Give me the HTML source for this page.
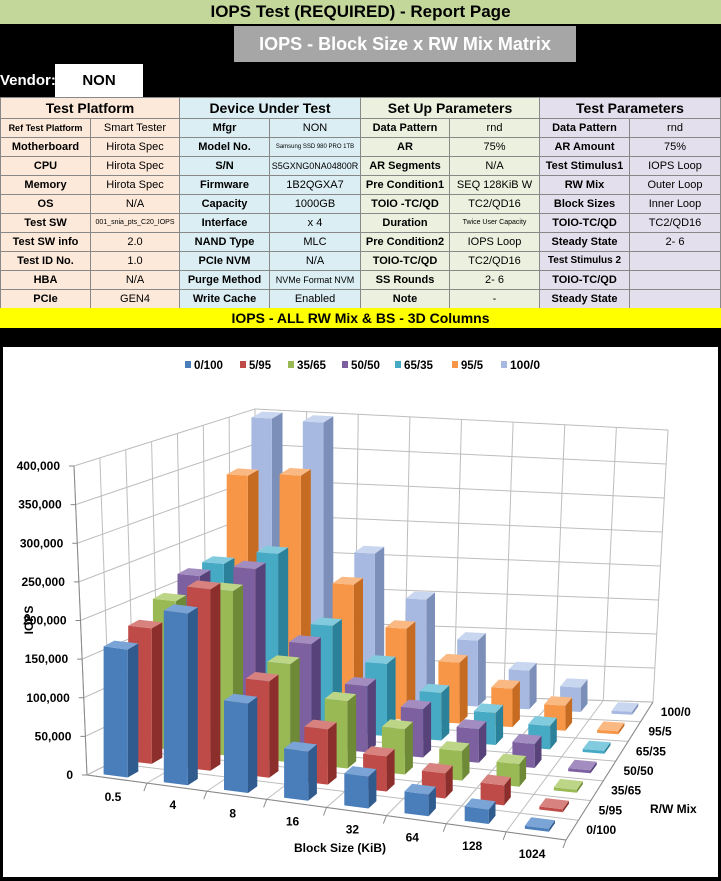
<!DOCTYPE html>
<html><head><meta charset="utf-8">
<style>
body{margin:0;width:721px;height:881px;background:#000;overflow:hidden;font-family:"Liberation Sans",sans-serif;position:relative}
.abs{position:absolute}
#title{left:0;top:0;width:721px;height:24px;background:#c4d79b;text-align:center;font-weight:bold;font-size:17px;line-height:24px}
#gray{left:234px;top:26px;width:342px;height:36px;background:#a6a6a6;color:#fff;font-weight:bold;font-size:18px;line-height:36px;text-align:center}
#vend{left:0;top:64px;color:#fff;font-weight:bold;font-size:15px;line-height:33px}
#non{left:55px;top:64px;width:88px;height:33px;background:#fff;font-weight:bold;font-size:15px;line-height:33px;text-align:center}
table{position:absolute;left:0;top:97px;border-collapse:collapse;table-layout:fixed}
td{border:1px solid #888;padding:0;text-align:center;font-size:11px;height:18px;line-height:18px;white-space:nowrap;overflow:hidden}
td.b{font-weight:bold}
tr.h td{font-weight:bold;font-size:14px;height:20px;line-height:20px}
.c1{background:#fde9d9}.c2{background:#dbeef4}.c3{background:#ebf1de}.c4{background:#e4dfec}
#yel{left:0;top:308px;width:721px;height:20px;background:#ffff00;font-weight:bold;font-size:14px;line-height:20px;text-align:center}
#chart{left:3px;top:347px}
</style></head><body>
<div class="abs" id="title">IOPS Test (REQUIRED) - Report Page</div>
<div class="abs" id="gray">IOPS - Block Size x RW Mix Matrix</div>
<div class="abs" id="vend">Vendor:</div>
<div class="abs" id="non">NON</div>
<table>
<colgroup><col style="width:90px"><col style="width:89px"><col style="width:90px"><col style="width:91px"><col style="width:89px"><col style="width:90px"><col style="width:90px"><col style="width:91px"></colgroup>
<tr class="h"><td colspan="2" class="c1">Test Platform</td><td colspan="2" class="c2">Device Under Test</td><td colspan="2" class="c3">Set Up Parameters</td><td colspan="2" class="c4">Test Parameters</td></tr>
<tr><td class="c1 b" style="font-size:9px">Ref Test Platform</td><td class="c1">Smart Tester</td><td class="c2 b">Mfgr</td><td class="c2">NON</td><td class="c3 b">Data Pattern</td><td class="c3">rnd</td><td class="c4 b">Data Pattern</td><td class="c4">rnd</td></tr>
<tr><td class="c1 b">Motherboard</td><td class="c1">Hirota Spec</td><td class="c2 b">Model No.</td><td class="c2" style="font-size:6px">Samsung SSD 980 PRO 1TB</td><td class="c3 b">AR</td><td class="c3">75%</td><td class="c4 b">AR Amount</td><td class="c4">75%</td></tr>
<tr><td class="c1 b">CPU</td><td class="c1">Hirota Spec</td><td class="c2 b">S/N</td><td class="c2" style="font-size:9px">S5GXNG0NA04800R</td><td class="c3 b">AR Segments</td><td class="c3">N/A</td><td class="c4 b">Test Stimulus1</td><td class="c4">IOPS Loop</td></tr>
<tr><td class="c1 b">Memory</td><td class="c1">Hirota Spec</td><td class="c2 b">Firmware</td><td class="c2">1B2QGXA7</td><td class="c3 b">Pre Condition1</td><td class="c3">SEQ 128KiB W</td><td class="c4 b">RW Mix</td><td class="c4">Outer Loop</td></tr>
<tr><td class="c1 b">OS</td><td class="c1">N/A</td><td class="c2 b">Capacity</td><td class="c2">1000GB</td><td class="c3 b">TOIO -TC/QD</td><td class="c3">TC2/QD16</td><td class="c4 b">Block Sizes</td><td class="c4">Inner Loop</td></tr>
<tr><td class="c1 b">Test SW</td><td class="c1" style="font-size:7px">001_snia_pts_C20_IOPS</td><td class="c2 b">Interface</td><td class="c2">x 4</td><td class="c3 b">Duration</td><td class="c3" style="font-size:7px">Twice User Capacity</td><td class="c4 b">TOIO-TC/QD</td><td class="c4">TC2/QD16</td></tr>
<tr><td class="c1 b">Test SW info</td><td class="c1">2.0</td><td class="c2 b">NAND Type</td><td class="c2">MLC</td><td class="c3 b">Pre Condition2</td><td class="c3">IOPS Loop</td><td class="c4 b">Steady State</td><td class="c4">2- 6</td></tr>
<tr><td class="c1 b">Test ID No.</td><td class="c1">1.0</td><td class="c2 b">PCIe NVM</td><td class="c2">N/A</td><td class="c3 b">TOIO-TC/QD</td><td class="c3">TC2/QD16</td><td class="c4 b" style="font-size:10px">Test Stimulus 2</td><td class="c4"></td></tr>
<tr><td class="c1 b">HBA</td><td class="c1">N/A</td><td class="c2 b">Purge Method</td><td class="c2" style="font-size:9px">NVMe Format NVM</td><td class="c3 b">SS Rounds</td><td class="c3">2- 6</td><td class="c4 b">TOIO-TC/QD</td><td class="c4"></td></tr>
<tr><td class="c1 b">PCIe</td><td class="c1">GEN4</td><td class="c2 b">Write Cache</td><td class="c2">Enabled</td><td class="c3 b">Note</td><td class="c3">-</td><td class="c4 b">Steady State</td><td class="c4"></td></tr>
</table>
<div class="abs" id="yel">IOPS - ALL RW Mix &amp; BS - 3D Columns</div>
<svg class="abs" id="chart" width="715" height="530" viewBox="3 347 715 530" style="background:#fff"></svg>
<script>
var svg=document.getElementById('chart');var NS='http://www.w3.org/2000/svg';
function el(t,a,txt){var e=document.createElementNS(NS,t);for(var k in a)e.setAttribute(k,a[k]);if(txt!=null)e.textContent=txt;svg.appendChild(e);return e;}
function bl(a,b,c,d,u,v){var f=a+(b-a)*u,k=c+(d-c)*u;return f+(k-f)*v;}
function P(u,v,h){var x=bl(87,566,255,653,u,v),y=bl(775,840,690,702,u,v);
var sc=bl(309,300,281,272,u,v),ln=bl(-13,3,0,15,u,v);var r=h/400000;return [x+ln*r,y-sc*r];}
function Q(a,b,px){var u=a/7,v=b/6;var x=bl(121,540,267,625,u,v),y=bl(773,826,692,710,u,v);return [x,y-px];}
function pt(p){return p[0].toFixed(1)+','+p[1].toFixed(1);}
function line(a,b,c,w){el('line',{x1:a[0],y1:a[1],x2:b[0],y2:b[1],stroke:c||'#bdbdbd','stroke-width':w||1});}
var H=400000;
for(var h=0;h<=H;h+=50000){line(P(0,0,h),P(0,1,h));line(P(0,1,h),P(1,1,h));}
for(var i=0;i<=8;i++){line(P(i/8,1,0),P(i/8,1,H));line(P(i/8,0,0),P(i/8,1,0));}
for(var j=0;j<=7;j++){line(P(0,j/7,0),P(0,j/7,H));line(P(0,j/7,0),P(1,j/7,0));}
line(P(0,0,0),P(0,0,H),'#888');line(P(0,0,0),P(1,0,0),'#888');line(P(1,0,0),P(1,1,0),'#888');
for(h=0;h<=H;h+=50000){var p=P(0,0,h);line([p[0]-5,p[1]],p,'#888');
el('text',{x:p[0]-14,y:p[1]+4,'text-anchor':'end','font-size':12,'font-weight':'bold','font-family':'Liberation Sans'},h==0?'0':(h/1000)+',000');}
var bs=['0.5','4','8','16','32','64','128','1024'],rw=['0/100','5/95','35/65','50/50','65/35','95/5','100/0'];
for(i=0;i<8;i++){var p=P((i+0.5)/8,0,0);var q=P((i+1)/8,0,0);line(q,[q[0]-3,q[1]+8],'#888');
el('text',{x:p[0]-4,y:p[1]+22,'text-anchor':'middle','font-size':12,'font-weight':'bold','font-family':'Liberation Sans'},bs[i]);}
for(j=0;j<7;j++){var p=P(1,(j+0.5)/7,0);el('text',{x:p[0]+14,y:p[1]+4,'font-size':12,'font-weight':'bold','font-family':'Liberation Sans'},rw[j]);}
el('text',{x:340,y:852,'text-anchor':'middle','font-size':12,'font-weight':'bold','font-family':'Liberation Sans'},'Block Size (KiB)');
el('text',{x:650,y:813,'font-size':12,'font-weight':'bold','font-family':'Liberation Sans'},'R/W Mix');
el('text',{x:0,y:0,transform:'translate(33,620) rotate(-90)','text-anchor':'middle','font-size':12,'font-weight':'bold','font-family':'Liberation Sans'},'IOPS');
var cols=[['#4a7ebb','#2f5b8f','#7aa3d6'],['#be4b48','#8c2f2c','#d88280'],['#98b954','#6e8a36','#bcd586'],['#7d60a0','#574279','#a28cc0'],['#46aac5','#2b8199','#82cbde'],['#f79646','#c66b22','#fab883'],['#a7b9e0','#7b8fb8','#c9d6ef']];
// tops (y px); 0 = flat tile
var tops=[[648,612,702,750,775,793,808,0],[627,588,680,728,755,772,784,0],[600,590,663,700,728,750,763,0],[575,568,643,685,708,728,743,0],[563,553,625,663,692,712,725,0],[475,475,584,628,662,688,705,0],[418,422,553,599,640,670,687,0]];
for(j=6;j>=0;j--)for(i=0;i<8;i++){var da=0.2,db=0.22,c=cols[j];
var base=Q(i,j-db,0)[1];var hv=tops[j][i]?Math.max(3,base-tops[j][i]):3;
var a0=i-da,a1=i+da,b0=j-db,b1=j+db;
el('polygon',{points:[Q(a1,b0,0),Q(a1,b1,0),Q(a1,b1,hv),Q(a1,b0,hv)].map(pt).join(' '),fill:c[1]});
el('polygon',{points:[Q(a0,b0,0),Q(a1,b0,0),Q(a1,b0,hv),Q(a0,b0,hv)].map(pt).join(' '),fill:c[0]});
el('polygon',{points:[Q(a0,b0,hv),Q(a1,b0,hv),Q(a1,b1,hv),Q(a0,b1,hv)].map(pt).join(' '),fill:c[2]});}
var lx=[185,240,288,342,395,452,501],lt=['0/100','5/95','35/65','50/50','65/35','95/5','100/0'],lw=[29,22,29,29,29,22,30];
for(j=0;j<7;j++){el('rect',{x:lx[j],y:361,width:6,height:7,fill:cols[j][0]});
el('text',{x:lx[j]+9,y:369,'font-size':12,'font-weight':'bold','font-family':'Liberation Sans',textLength:lw[j],lengthAdjust:'spacingAndGlyphs'},lt[j]);}
</script>
</body></html>
